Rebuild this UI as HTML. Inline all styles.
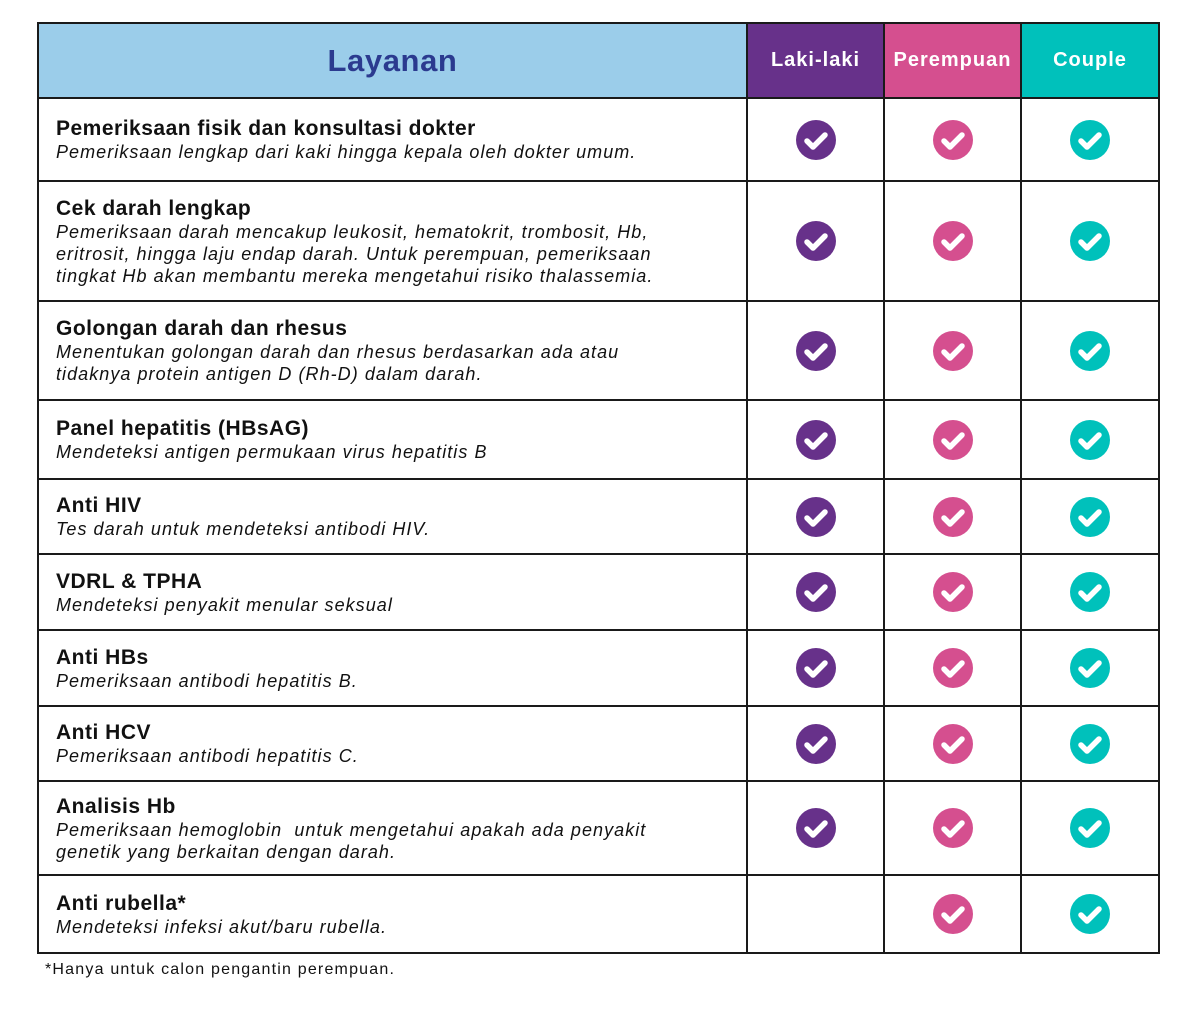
<!DOCTYPE html>
<html><head><meta charset="utf-8"><style>
body{margin:0;background:#fff;width:1200px;height:1009px;position:relative;font-family:"Liberation Sans",sans-serif;overflow:hidden}
table{position:absolute;left:37px;top:22px;border-collapse:collapse;width:1121px;table-layout:fixed}
td,th{border:2px solid #1a1a1a;padding:0}
th{height:73px;color:#fff;font-size:20px;font-weight:bold;letter-spacing:1px}
th.l{background:#9bcdea;color:#2b3a8f;font-size:31px;letter-spacing:0.6px}
th.m{background:#67318a}
th.f{background:#d54f8f}
th.c{background:#00c1bb}
td.d{padding-left:17px}
.t{font-weight:bold;font-size:21px;line-height:25px;color:#111;letter-spacing:0.5px}
.s{font-style:italic;font-size:18px;line-height:22px;color:#111;letter-spacing:1.05px}
td.i{text-align:center}
.ck{display:inline-block;width:40px;height:40px;border-radius:50%;vertical-align:middle}
.ck svg{display:block}
.note{position:absolute;left:45px;top:961px;font-size:16px;color:#111;letter-spacing:1.2px}
</style></head><body>
<table>
<colgroup><col style="width:709px"><col style="width:137px"><col style="width:137px"><col style="width:138px"></colgroup>
<tr><th class="l">Layanan</th><th class="m">Laki-laki</th><th class="f">Perempuan</th><th class="c">Couple</th></tr>
<tr style="height:83px"><td class="d"><div class="t">Pemeriksaan fisik dan konsultasi dokter</div><div class="s">Pemeriksaan lengkap dari kaki hingga kepala oleh dokter umum.</div></td><td class="i"><span class="ck" style="background:#67318a"><svg width="40" height="40"><path d="M11 21 l6 6 l12 -12" stroke="#fff" stroke-width="5.5" fill="none" stroke-linecap="round" stroke-linejoin="round"/></svg></span></td><td class="i"><span class="ck" style="background:#d54f8f"><svg width="40" height="40"><path d="M11 21 l6 6 l12 -12" stroke="#fff" stroke-width="5.5" fill="none" stroke-linecap="round" stroke-linejoin="round"/></svg></span></td><td class="i"><span class="ck" style="background:#00c1bb"><svg width="40" height="40"><path d="M11 21 l6 6 l12 -12" stroke="#fff" stroke-width="5.5" fill="none" stroke-linecap="round" stroke-linejoin="round"/></svg></span></td></tr>
<tr style="height:120px"><td class="d"><div class="t">Cek darah lengkap</div><div class="s">Pemeriksaan darah mencakup leukosit, hematokrit, trombosit, Hb,<br>eritrosit, hingga laju endap darah. Untuk perempuan, pemeriksaan<br>tingkat Hb akan membantu mereka mengetahui risiko thalassemia.</div></td><td class="i"><span class="ck" style="background:#67318a"><svg width="40" height="40"><path d="M11 21 l6 6 l12 -12" stroke="#fff" stroke-width="5.5" fill="none" stroke-linecap="round" stroke-linejoin="round"/></svg></span></td><td class="i"><span class="ck" style="background:#d54f8f"><svg width="40" height="40"><path d="M11 21 l6 6 l12 -12" stroke="#fff" stroke-width="5.5" fill="none" stroke-linecap="round" stroke-linejoin="round"/></svg></span></td><td class="i"><span class="ck" style="background:#00c1bb"><svg width="40" height="40"><path d="M11 21 l6 6 l12 -12" stroke="#fff" stroke-width="5.5" fill="none" stroke-linecap="round" stroke-linejoin="round"/></svg></span></td></tr>
<tr style="height:99px"><td class="d"><div class="t">Golongan darah dan rhesus</div><div class="s">Menentukan golongan darah dan rhesus berdasarkan ada atau<br>tidaknya protein antigen D (Rh-D) dalam darah.</div></td><td class="i"><span class="ck" style="background:#67318a"><svg width="40" height="40"><path d="M11 21 l6 6 l12 -12" stroke="#fff" stroke-width="5.5" fill="none" stroke-linecap="round" stroke-linejoin="round"/></svg></span></td><td class="i"><span class="ck" style="background:#d54f8f"><svg width="40" height="40"><path d="M11 21 l6 6 l12 -12" stroke="#fff" stroke-width="5.5" fill="none" stroke-linecap="round" stroke-linejoin="round"/></svg></span></td><td class="i"><span class="ck" style="background:#00c1bb"><svg width="40" height="40"><path d="M11 21 l6 6 l12 -12" stroke="#fff" stroke-width="5.5" fill="none" stroke-linecap="round" stroke-linejoin="round"/></svg></span></td></tr>
<tr style="height:79px"><td class="d"><div class="t">Panel hepatitis (HBsAG)</div><div class="s">Mendeteksi antigen permukaan virus hepatitis B</div></td><td class="i"><span class="ck" style="background:#67318a"><svg width="40" height="40"><path d="M11 21 l6 6 l12 -12" stroke="#fff" stroke-width="5.5" fill="none" stroke-linecap="round" stroke-linejoin="round"/></svg></span></td><td class="i"><span class="ck" style="background:#d54f8f"><svg width="40" height="40"><path d="M11 21 l6 6 l12 -12" stroke="#fff" stroke-width="5.5" fill="none" stroke-linecap="round" stroke-linejoin="round"/></svg></span></td><td class="i"><span class="ck" style="background:#00c1bb"><svg width="40" height="40"><path d="M11 21 l6 6 l12 -12" stroke="#fff" stroke-width="5.5" fill="none" stroke-linecap="round" stroke-linejoin="round"/></svg></span></td></tr>
<tr style="height:75px"><td class="d"><div class="t">Anti HIV</div><div class="s">Tes darah untuk mendeteksi antibodi HIV.</div></td><td class="i"><span class="ck" style="background:#67318a"><svg width="40" height="40"><path d="M11 21 l6 6 l12 -12" stroke="#fff" stroke-width="5.5" fill="none" stroke-linecap="round" stroke-linejoin="round"/></svg></span></td><td class="i"><span class="ck" style="background:#d54f8f"><svg width="40" height="40"><path d="M11 21 l6 6 l12 -12" stroke="#fff" stroke-width="5.5" fill="none" stroke-linecap="round" stroke-linejoin="round"/></svg></span></td><td class="i"><span class="ck" style="background:#00c1bb"><svg width="40" height="40"><path d="M11 21 l6 6 l12 -12" stroke="#fff" stroke-width="5.5" fill="none" stroke-linecap="round" stroke-linejoin="round"/></svg></span></td></tr>
<tr style="height:76px"><td class="d"><div class="t">VDRL &amp; TPHA</div><div class="s">Mendeteksi penyakit menular seksual</div></td><td class="i"><span class="ck" style="background:#67318a"><svg width="40" height="40"><path d="M11 21 l6 6 l12 -12" stroke="#fff" stroke-width="5.5" fill="none" stroke-linecap="round" stroke-linejoin="round"/></svg></span></td><td class="i"><span class="ck" style="background:#d54f8f"><svg width="40" height="40"><path d="M11 21 l6 6 l12 -12" stroke="#fff" stroke-width="5.5" fill="none" stroke-linecap="round" stroke-linejoin="round"/></svg></span></td><td class="i"><span class="ck" style="background:#00c1bb"><svg width="40" height="40"><path d="M11 21 l6 6 l12 -12" stroke="#fff" stroke-width="5.5" fill="none" stroke-linecap="round" stroke-linejoin="round"/></svg></span></td></tr>
<tr style="height:76px"><td class="d"><div class="t">Anti HBs</div><div class="s">Pemeriksaan antibodi hepatitis B.</div></td><td class="i"><span class="ck" style="background:#67318a"><svg width="40" height="40"><path d="M11 21 l6 6 l12 -12" stroke="#fff" stroke-width="5.5" fill="none" stroke-linecap="round" stroke-linejoin="round"/></svg></span></td><td class="i"><span class="ck" style="background:#d54f8f"><svg width="40" height="40"><path d="M11 21 l6 6 l12 -12" stroke="#fff" stroke-width="5.5" fill="none" stroke-linecap="round" stroke-linejoin="round"/></svg></span></td><td class="i"><span class="ck" style="background:#00c1bb"><svg width="40" height="40"><path d="M11 21 l6 6 l12 -12" stroke="#fff" stroke-width="5.5" fill="none" stroke-linecap="round" stroke-linejoin="round"/></svg></span></td></tr>
<tr style="height:75px"><td class="d"><div class="t">Anti HCV</div><div class="s">Pemeriksaan antibodi hepatitis C.</div></td><td class="i"><span class="ck" style="background:#67318a"><svg width="40" height="40"><path d="M11 21 l6 6 l12 -12" stroke="#fff" stroke-width="5.5" fill="none" stroke-linecap="round" stroke-linejoin="round"/></svg></span></td><td class="i"><span class="ck" style="background:#d54f8f"><svg width="40" height="40"><path d="M11 21 l6 6 l12 -12" stroke="#fff" stroke-width="5.5" fill="none" stroke-linecap="round" stroke-linejoin="round"/></svg></span></td><td class="i"><span class="ck" style="background:#00c1bb"><svg width="40" height="40"><path d="M11 21 l6 6 l12 -12" stroke="#fff" stroke-width="5.5" fill="none" stroke-linecap="round" stroke-linejoin="round"/></svg></span></td></tr>
<tr style="height:94px"><td class="d"><div class="t">Analisis Hb</div><div class="s">Pemeriksaan hemoglobin&nbsp; untuk mengetahui apakah ada penyakit<br>genetik yang berkaitan dengan darah.</div></td><td class="i"><span class="ck" style="background:#67318a"><svg width="40" height="40"><path d="M11 21 l6 6 l12 -12" stroke="#fff" stroke-width="5.5" fill="none" stroke-linecap="round" stroke-linejoin="round"/></svg></span></td><td class="i"><span class="ck" style="background:#d54f8f"><svg width="40" height="40"><path d="M11 21 l6 6 l12 -12" stroke="#fff" stroke-width="5.5" fill="none" stroke-linecap="round" stroke-linejoin="round"/></svg></span></td><td class="i"><span class="ck" style="background:#00c1bb"><svg width="40" height="40"><path d="M11 21 l6 6 l12 -12" stroke="#fff" stroke-width="5.5" fill="none" stroke-linecap="round" stroke-linejoin="round"/></svg></span></td></tr>
<tr style="height:78px"><td class="d"><div class="t">Anti rubella*</div><div class="s">Mendeteksi infeksi akut/baru rubella.</div></td><td class="i"></td><td class="i"><span class="ck" style="background:#d54f8f"><svg width="40" height="40"><path d="M11 21 l6 6 l12 -12" stroke="#fff" stroke-width="5.5" fill="none" stroke-linecap="round" stroke-linejoin="round"/></svg></span></td><td class="i"><span class="ck" style="background:#00c1bb"><svg width="40" height="40"><path d="M11 21 l6 6 l12 -12" stroke="#fff" stroke-width="5.5" fill="none" stroke-linecap="round" stroke-linejoin="round"/></svg></span></td></tr>
</table>
<div class="note">*Hanya untuk calon pengantin perempuan.</div>
</body></html>
